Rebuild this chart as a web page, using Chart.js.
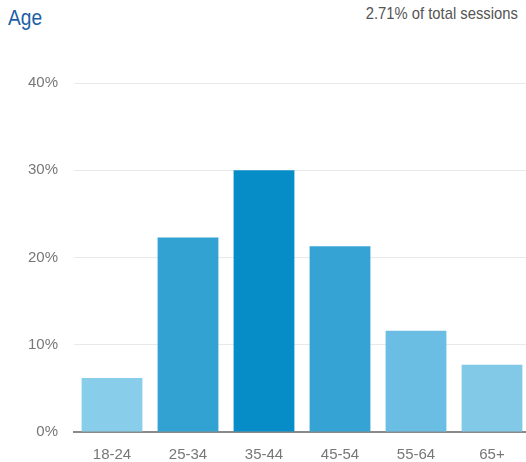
<!DOCTYPE html>
<html>
<head>
<meta charset="utf-8">
<script src="https://cdn.jsdelivr.net/npm/chart.js@4/dist/chart.umd.min.js"></script>
<style>
  html, body { margin: 0; padding: 0; background: #fff; overflow: hidden; }
  .wrap { position: relative; width: 526px; height: 462px; overflow: hidden; }
  .title {
    position: absolute; left: 8px; top: 5px;
    font-family: 'Liberation Sans', Arial, sans-serif;
    font-size: 22px; color: #1b5fa5;
    transform: scaleX(0.87); transform-origin: left top;
  }
  .note {
    position: absolute; right: 8px; top: 4px;
    font-family: 'Liberation Sans', Arial, sans-serif;
    font-size: 17px; color: #555;
    transform: scaleX(0.87); transform-origin: right top;
  }
  canvas { position: absolute; left: 0; top: 0; }
</style>
</head>
<body>
<div class="wrap">
  <div class="title">Age</div>
  <div class="note">2.71% of total sessions</div>
  <canvas id="ageChart" width="530" height="462"></canvas>
</div>
<script>
// age buckets and share of sessions (%)
const ageGroups = ['18-24', '25-34', '35-44', '45-54', '55-64', '65+'];
const sessionShare = [6.2, 22.3, 30.0, 21.3, 11.6, 7.7];
const barColors = ['#88cdea', '#32a2d2', '#068dc7', '#35a4d4', '#6bbee3', '#82c9e7'];
const yTicks = [0, 10, 20, 30, 40];

const labelFont = { family: "'Liberation Sans', Arial, sans-serif", size: 15 };

new Chart(document.getElementById('ageChart'), {
  type: 'bar',
  data: {
    labels: ageGroups,
    datasets: [{
      data: sessionShare,
      backgroundColor: barColors,
      borderWidth: 0,
      barPercentage: 0.8,
      categoryPercentage: 1.0
    }]
  },
  options: {
    responsive: false,
    animation: false,
    layout: { padding: { top: 83, right: 0, bottom: 0, left: 0 } },
    plugins: { legend: { display: false }, tooltip: { enabled: false } },
    scales: {
      y: {
        min: 0,
        max: 40,
        afterBuildTicks: axis => { axis.ticks = yTicks.map(v => ({ value: v })); },
        afterFit: axis => { axis.width = 74; },
        grid: { color: '#e9e9e9', lineWidth: 1, drawTicks: false },
        border: { display: false },
        ticks: {
          color: '#777',
          font: labelFont,
          padding: 16,
          callback: v => v + '%'
        }
      },
      x: {
        afterFit: axis => { axis.height = 30; },
        grid: { display: false },
        border: { display: true, color: '#8a8a8a', width: 2 },
        ticks: { color: '#777', font: labelFont, padding: 6 }
      }
    }
  }
});
</script>
</body>
</html>
